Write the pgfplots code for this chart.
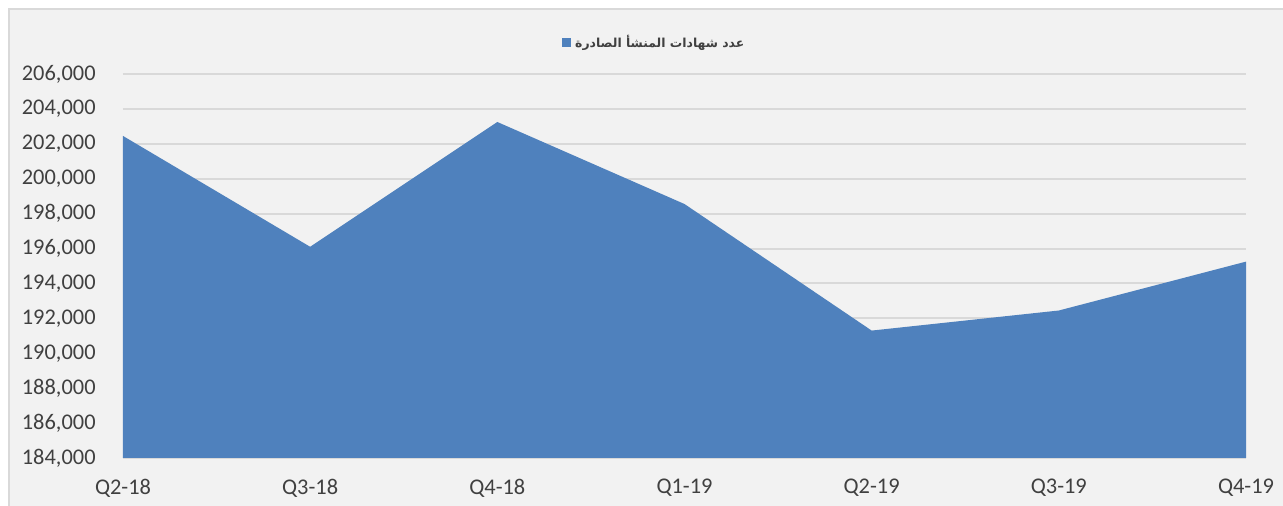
\documentclass[border=0pt]{standalone}
\usepackage{pgfplots}
\pgfplotsset{compat=1.18}
\usepackage{fontspec}
\setmainfont{Carlito}
\newfontfamily\arabicfont[Script=Arabic]{DejaVu Sans}
\TeXXeTstate=1
\definecolor{areablue}{HTML}{4F81BD}
\definecolor{gridgray}{HTML}{D9D9D9}
\definecolor{bggray}{HTML}{F2F2F2}
\definecolor{labelgray}{HTML}{404040}

\begin{document}
\begin{tikzpicture}[x=0.5pt,y=0.5pt]
 % chart area, 1 unit = 1 pixel of the reference; axis box corner at (0,0)
 \useasboundingbox (-123,-48) rectangle (1160,458);
 \fill[white] (-123,-48) rectangle (1160,458);
 \fill[bggray] (-114,-48) rectangle (1160,449);
 \draw[gridgray,line width=1pt] (-113.5,-48) -- (-113.5,448.5) -- (1160,448.5);

 \begin{axis}[
 scale only axis, width=561.5pt, height=192pt,
 xmin=0, xmax=6, ymin=184000, ymax=206000,
 xtick={0,1,2,3,4,5,6},
 xticklabels={Q2-18,Q3-18,Q4-18,Q1-19,Q2-19,Q3-19,Q4-19},
 ytick={184000,186000,...,206000},
 scaled y ticks=false,
 /pgf/number format/fixed,
 /pgf/number format/1000 sep={,},
 /pgf/number format/assume math mode=true,
 tick label style={font=\fontsize{11.2}{13}\selectfont, text=labelgray},
 yticklabel style={anchor=east, inner sep=0pt, xshift=-13.5pt},
 xticklabel style={anchor=center, inner sep=0pt, yshift=-15pt},
 major tick length=0pt,
 ymajorgrids, major grid style={gridgray, line width=1pt},
 axis x line*=bottom, axis y line*=left,
 x axis line style={gridgray, line width=0.75pt, -},
 y axis line style={draw=none},
 legend style={at={(0.474,1.081)}, anchor=center, draw=none, fill=none,
 font=\arabicfont\bfseries\fontsize{6.2}{8}\selectfont, text=labelgray},
 legend image code/.code={\fill[#1] (0pt,-2.25pt) rectangle (4.5pt,2.25pt);},
 ]
 \addplot[fill=areablue, draw=none] coordinates {
 (0,202450) (1,196100) (2,203250) (3,198550) (4,191300) (5,192450) (6,195250)
 } \closedcycle;
 \addlegendentry{\beginR عدد شهادات المنشأ الصادرة\endR}
 \end{axis}
\end{tikzpicture}
\end{document}
